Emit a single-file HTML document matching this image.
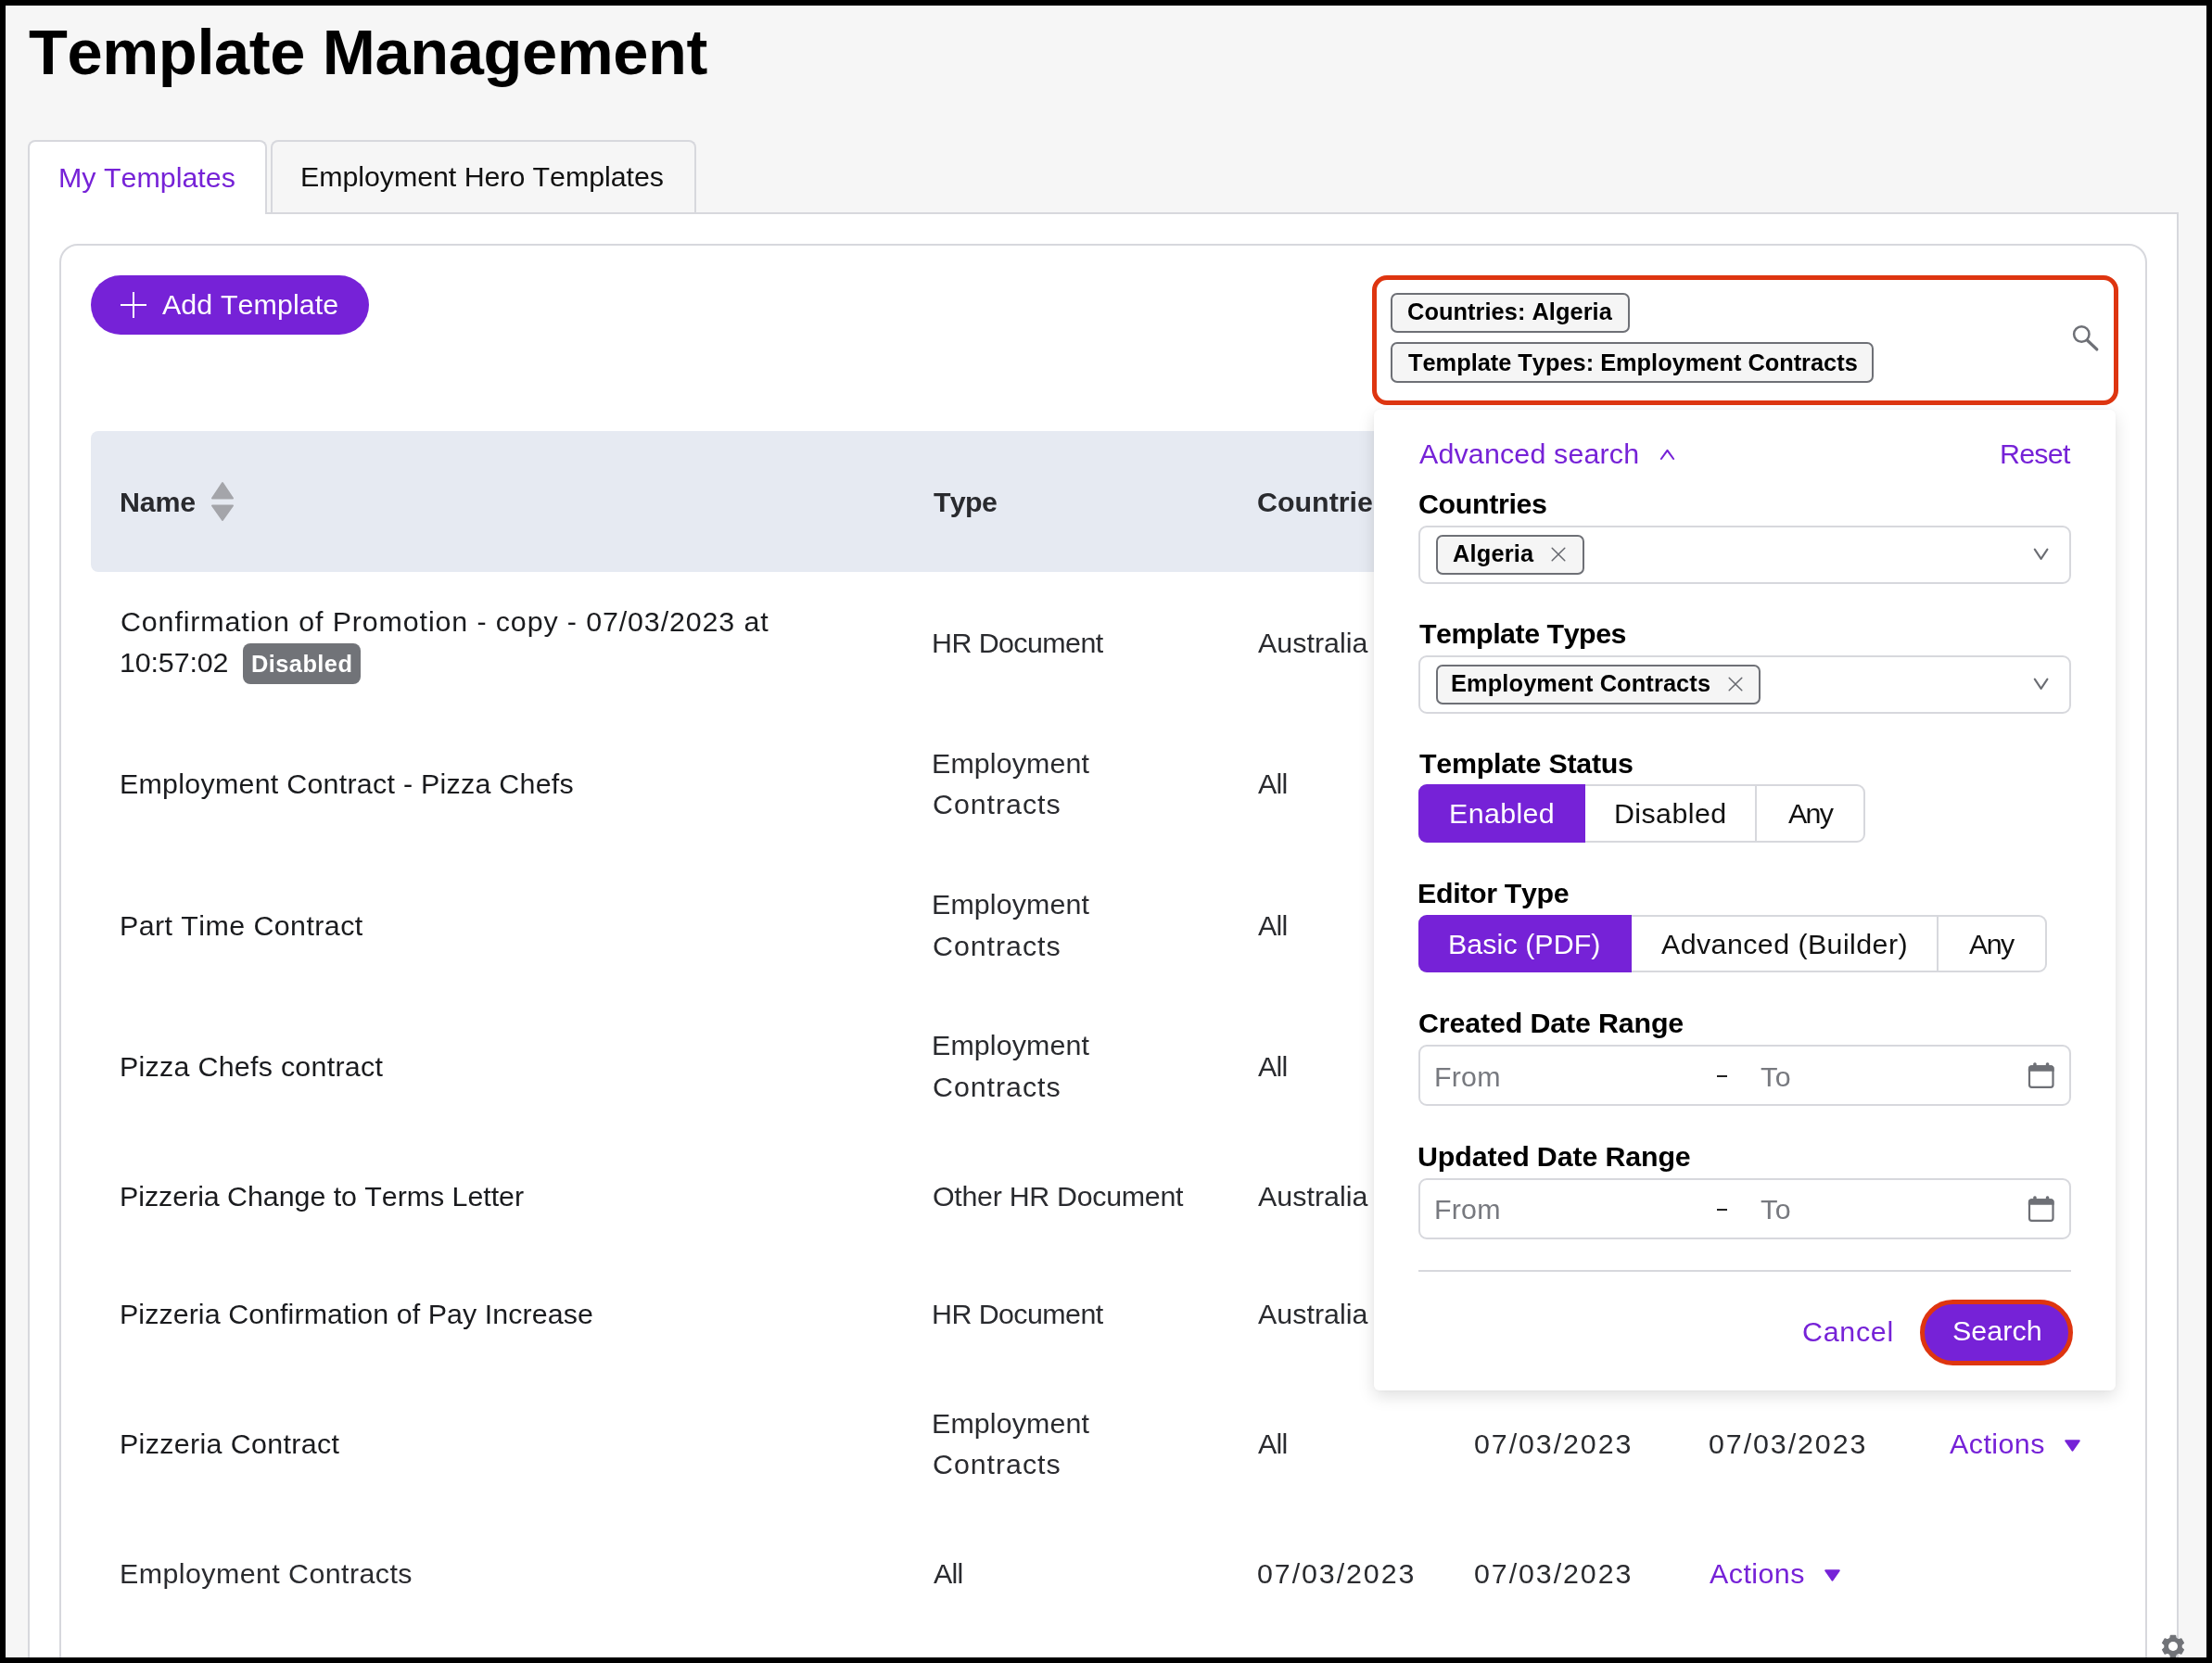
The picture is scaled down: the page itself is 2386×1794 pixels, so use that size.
<!DOCTYPE html>
<html><head><meta charset="utf-8"><style>
html,body{margin:0;padding:0;}
body{width:2386px;height:1794px;background:#000;overflow:hidden;position:relative;font-family:"Liberation Sans",sans-serif;}
#pg{position:absolute;left:6px;top:6px;width:2374px;height:1782px;background:#f6f6f6;overflow:hidden;}
.t{position:absolute;white-space:nowrap;font-kerning:none;-webkit-font-smoothing:antialiased;will-change:transform;}
.r{position:absolute;box-sizing:border-box;}
</style></head><body><div id="pg">
<div class="t" style="left:25.43px;top:16.93px;font-size:68.6px;line-height:68.6px;color:#000;font-weight:700;letter-spacing:-0.39px;">Template Management</div>
<div class="r" style="left:24.00px;top:223.00px;width:2320.00px;height:1671.00px;background:#fff;border:2px solid #d7d8dd;"></div>
<div class="r" style="left:24.00px;top:145.00px;width:258.00px;height:80.00px;background:#fff;border:2px solid #d7d8dd;border-bottom:none;border-radius:8px 8px 0 0;"></div>
<div class="r" style="left:286.00px;top:145.00px;width:459.00px;height:78.00px;background:#f6f6f6;border:2px solid #d7d8dd;border-bottom:none;border-radius:8px 8px 0 0;"></div>
<div class="t" style="left:56.51px;top:170.27px;font-size:30.4px;line-height:30.4px;color:#7622d7;">My Templates</div>
<div class="t" style="left:317.51px;top:169.27px;font-size:30.4px;line-height:30.4px;color:#111;letter-spacing:-0.065px;">Employment Hero Templates</div>
<div class="r" style="left:58.00px;top:257.00px;width:2252.00px;height:1637.00px;background:#fff;border:2px solid #d7d8dd;border-radius:20px;"></div>
<div class="r" style="left:92.00px;top:291.00px;width:300.00px;height:64.00px;background:#7622d7;border-radius:32px;"></div>
<div class="r" style="left:124.00px;top:322.00px;width:28.00px;height:2.00px;background:#fff;"></div>
<div class="r" style="left:137.00px;top:309.00px;width:2.00px;height:28.00px;background:#fff;"></div>
<div class="t" style="left:169.34px;top:307.27px;font-size:30.4px;line-height:30.4px;color:#fff;letter-spacing:0.096px;">Add Template</div>
<div class="r" style="left:92.00px;top:459.00px;width:2184.00px;height:152.00px;background:#e6eaf2;border-radius:8px;"></div>
<div class="t" style="left:123.37px;top:519.57px;font-size:30.4px;line-height:30.4px;color:#292a2e;font-weight:700;letter-spacing:-0.209px;">Name</div>
<svg class="r" style="left:221.00px;top:513.00px" width="26" height="44" viewBox="0 0 26 44"><path d="M13 2 L24 18.5 L2 18.5 Z" fill="#a4a5aa" stroke="#a4a5aa" stroke-width="2" stroke-linejoin="round"/><path d="M2 26.5 L24 26.5 L13 42 Z" fill="#a4a5aa" stroke="#a4a5aa" stroke-width="2" stroke-linejoin="round"/></svg>
<div class="t" style="left:1000.66px;top:519.87px;font-size:30.4px;line-height:30.4px;color:#292a2e;font-weight:700;letter-spacing:-0.691px;">Type</div>
<div class="t" style="left:1350.05px;top:519.87px;font-size:30.4px;line-height:30.4px;color:#292a2e;font-weight:700;">Countries</div>
<div class="t" style="left:123.66px;top:649.27px;font-size:30.4px;line-height:30.4px;color:#1a1b1e;letter-spacing:0.884px;">Confirmation of Promotion - copy - 07/03/2023 at</div>
<div class="t" style="left:122.88px;top:692.87px;font-size:30.4px;line-height:30.4px;color:#1a1b1e;letter-spacing:-0.127px;">10:57:02</div>
<div class="r" style="left:256.00px;top:688.00px;width:127.00px;height:43.50px;background:#717378;border-radius:8px;"></div>
<div class="t" style="left:264.90px;top:697.80px;font-size:25.4px;line-height:25.4px;color:#fff;font-weight:700;letter-spacing:0.444px;">Disabled</div>
<div class="t" style="left:998.71px;top:672.17px;font-size:30.4px;line-height:30.4px;color:#2a2b2f;letter-spacing:-0.569px;">HR Document</div>
<div class="t" style="left:1351.44px;top:672.17px;font-size:30.4px;line-height:30.4px;color:#2a2b2f;letter-spacing:0.036px;">Australia</div>
<div class="t" style="left:122.71px;top:824.47px;font-size:30.4px;line-height:30.4px;color:#1a1b1e;letter-spacing:0.262px;">Employment Contract - Pizza Chefs</div>
<div class="t" style="left:998.71px;top:802.17px;font-size:30.4px;line-height:30.4px;color:#2a2b2f;letter-spacing:0.118px;">Employment</div>
<div class="t" style="left:999.66px;top:846.47px;font-size:30.4px;line-height:30.4px;color:#2a2b2f;letter-spacing:0.956px;">Contracts</div>
<div class="t" style="left:1351.44px;top:824.47px;font-size:30.4px;line-height:30.4px;color:#2a2b2f;letter-spacing:-0.746px;">All</div>
<div class="t" style="left:122.71px;top:976.57px;font-size:30.4px;line-height:30.4px;color:#1a1b1e;letter-spacing:0.425px;">Part Time Contract</div>
<div class="t" style="left:998.71px;top:954.27px;font-size:30.4px;line-height:30.4px;color:#2a2b2f;letter-spacing:0.118px;">Employment</div>
<div class="t" style="left:999.66px;top:998.57px;font-size:30.4px;line-height:30.4px;color:#2a2b2f;letter-spacing:0.956px;">Contracts</div>
<div class="t" style="left:1351.44px;top:976.57px;font-size:30.4px;line-height:30.4px;color:#2a2b2f;letter-spacing:-0.746px;">All</div>
<div class="t" style="left:122.71px;top:1128.57px;font-size:30.4px;line-height:30.4px;color:#1a1b1e;letter-spacing:0.276px;">Pizza Chefs contract</div>
<div class="t" style="left:998.71px;top:1106.27px;font-size:30.4px;line-height:30.4px;color:#2a2b2f;letter-spacing:0.118px;">Employment</div>
<div class="t" style="left:999.66px;top:1150.57px;font-size:30.4px;line-height:30.4px;color:#2a2b2f;letter-spacing:0.956px;">Contracts</div>
<div class="t" style="left:1351.44px;top:1128.57px;font-size:30.4px;line-height:30.4px;color:#2a2b2f;letter-spacing:-0.746px;">All</div>
<div class="t" style="left:122.71px;top:1268.57px;font-size:30.4px;line-height:30.4px;color:#1a1b1e;letter-spacing:-0.047px;">Pizzeria Change to Terms Letter</div>
<div class="t" style="left:999.76px;top:1268.57px;font-size:30.4px;line-height:30.4px;color:#2a2b2f;letter-spacing:-0.301px;">Other HR Document</div>
<div class="t" style="left:1351.44px;top:1268.57px;font-size:30.4px;line-height:30.4px;color:#2a2b2f;letter-spacing:0.036px;">Australia</div>
<div class="t" style="left:122.71px;top:1396.47px;font-size:30.4px;line-height:30.4px;color:#1a1b1e;letter-spacing:0.069px;">Pizzeria Confirmation of Pay Increase</div>
<div class="t" style="left:998.71px;top:1396.47px;font-size:30.4px;line-height:30.4px;color:#2a2b2f;letter-spacing:-0.569px;">HR Document</div>
<div class="t" style="left:1351.44px;top:1396.47px;font-size:30.4px;line-height:30.4px;color:#2a2b2f;letter-spacing:0.036px;">Australia</div>
<div class="t" style="left:122.71px;top:1536.47px;font-size:30.4px;line-height:30.4px;color:#1a1b1e;letter-spacing:0.347px;">Pizzeria Contract</div>
<div class="t" style="left:998.71px;top:1514.17px;font-size:30.4px;line-height:30.4px;color:#2a2b2f;letter-spacing:0.118px;">Employment</div>
<div class="t" style="left:999.66px;top:1558.47px;font-size:30.4px;line-height:30.4px;color:#2a2b2f;letter-spacing:0.956px;">Contracts</div>
<div class="t" style="left:1351.44px;top:1536.47px;font-size:30.4px;line-height:30.4px;color:#2a2b2f;letter-spacing:-0.746px;">All</div>
<div class="t" style="left:1583.61px;top:1536.47px;font-size:30.4px;line-height:30.4px;color:#2a2b2f;letter-spacing:1.919px;">07/03/2023</div>
<div class="t" style="left:1836.61px;top:1536.47px;font-size:30.4px;line-height:30.4px;color:#2a2b2f;letter-spacing:1.919px;">07/03/2023</div>
<div class="t" style="left:2097.04px;top:1536.47px;font-size:30.4px;line-height:30.4px;color:#7622d7;letter-spacing:0.461px;">Actions</div>
<svg class="r" style="left:2221.20px;top:1546.60px" width="17" height="13" viewBox="0 0 17 13"><path d="M1.2 1.2 L15.8 1.2 L8.5 11.8 Z" fill="#7622d7" stroke="#7622d7" stroke-width="2" stroke-linejoin="round"/></svg>
<div class="t" style="left:122.71px;top:1676.47px;font-size:30.4px;line-height:30.4px;color:#2a2b2f;letter-spacing:0.427px;">Employment Contracts</div>
<div class="t" style="left:1001.14px;top:1676.47px;font-size:30.4px;line-height:30.4px;color:#2a2b2f;letter-spacing:-0.746px;">All</div>
<div class="t" style="left:1350.31px;top:1676.47px;font-size:30.4px;line-height:30.4px;color:#2a2b2f;letter-spacing:1.919px;">07/03/2023</div>
<div class="t" style="left:1583.61px;top:1676.47px;font-size:30.4px;line-height:30.4px;color:#2a2b2f;letter-spacing:1.919px;">07/03/2023</div>
<div class="t" style="left:1837.74px;top:1676.47px;font-size:30.4px;line-height:30.4px;color:#7622d7;letter-spacing:0.461px;">Actions</div>
<svg class="r" style="left:1961.90px;top:1686.60px" width="17" height="13" viewBox="0 0 17 13"><path d="M1.2 1.2 L15.8 1.2 L8.5 11.8 Z" fill="#7622d7" stroke="#7622d7" stroke-width="2" stroke-linejoin="round"/></svg>
<svg class="r" style="left:2323.00px;top:1755.30px" width="30" height="30" viewBox="0 0 30 30"><path fill="#717378" stroke="#717378" stroke-width="1.2" stroke-linejoin="round" d="M11.76,6.39 L12.38,3.29 L17.62,3.29 L18.24,6.39 L20.84,7.89 L23.83,6.88 L26.45,11.41 L24.08,13.50 L24.08,16.50 L26.45,18.59 L23.83,23.12 L20.84,22.11 L18.24,23.61 L17.62,26.71 L12.38,26.71 L11.76,23.61 L9.16,22.11 L6.17,23.12 L3.55,18.59 L5.92,16.50 L5.92,13.50 L3.55,11.41 L6.17,6.88 L9.16,7.89 Z"/><circle cx="15" cy="15" r="5" fill="#fff"/></svg>
<div class="r" style="left:1474.00px;top:291.00px;width:805.00px;height:140.00px;background:#fff;border:5px solid #de3510;border-radius:16px;box-sizing:border-box;"></div>
<div class="r" style="left:1494.00px;top:310.00px;width:258.00px;height:42.50px;background:#f5f5f5;border:2px solid #6e7076;border-radius:7px;box-sizing:border-box;"></div>
<div class="t" style="left:1511.96px;top:318.10px;font-size:25.4px;line-height:25.4px;color:#000;font-weight:700;letter-spacing:0.042px;">Countries: Algeria</div>
<div class="r" style="left:1494.00px;top:363.00px;width:521.00px;height:43.50px;background:#f5f5f5;border:2px solid #6e7076;border-radius:7px;box-sizing:border-box;"></div>
<div class="t" style="left:1512.71px;top:372.50px;font-size:25.4px;line-height:25.4px;color:#000;font-weight:700;letter-spacing:-0.017px;">Template Types: Employment Contracts</div>
<svg class="r" style="left:2228.00px;top:343.00px" width="32" height="32" viewBox="0 0 32 32"><circle cx="11.3" cy="11.5" r="8.2" fill="none" stroke="#6e7076" stroke-width="2.5"/><path d="M17.6 18.2 L27.8 27.9" stroke="#6e7076" stroke-width="3.3" stroke-linecap="round"/></svg>
<div class="r" style="left:1476.00px;top:436.00px;width:800.00px;height:1058.00px;background:#fff;border-radius:6px;box-shadow:0 6px 18px rgba(0,0,0,0.13), 0 0 4px rgba(0,0,0,0.04);"></div>
<div class="t" style="left:1525.44px;top:467.87px;font-size:30.4px;line-height:30.4px;color:#7622d7;letter-spacing:0.159px;">Advanced search</div>
<svg class="r" style="left:1783.00px;top:476.00px" width="20" height="16" viewBox="0 0 20 16"><path d="M2.9 13 L9.5 3.9 L16.1 13" fill="none" stroke="#7622d7" stroke-width="2.1" stroke-linecap="round" stroke-linejoin="round"/></svg>
<div class="t" style="left:2150.51px;top:467.87px;font-size:30.4px;line-height:30.4px;color:#7622d7;letter-spacing:-0.749px;">Reset</div>
<div class="t" style="left:1523.75px;top:522.47px;font-size:30.4px;line-height:30.4px;color:#000;font-weight:700;letter-spacing:-0.36px;">Countries</div>
<div class="r" style="left:1524.00px;top:560.50px;width:704.00px;height:63.50px;border:2px solid #d7d8dd;border-radius:9px;box-sizing:border-box;background:#fff;"></div>
<svg class="r" style="left:2186.00px;top:584.25px" width="19" height="14" viewBox="0 0 19 14"><path d="M2.8 2.6 L9.6 12.9 L16.4 2.6" fill="none" stroke="#6b6d73" stroke-width="2.1" stroke-linecap="round" stroke-linejoin="round"/></svg>
<div class="r" style="left:1542.50px;top:570.50px;width:160.00px;height:43.00px;background:#f5f5f5;border:2px solid #6e7076;border-radius:7px;box-sizing:border-box;"></div>
<div class="t" style="left:1560.97px;top:579.10px;font-size:25.4px;line-height:25.4px;color:#000;font-weight:700;letter-spacing:0.194px;">Algeria</div>
<svg class="r" style="left:1667.00px;top:584.00px" width="16" height="16" viewBox="0 0 16 16"><path d="M1.2 1.2 L14.8 14.8 M14.8 1.2 L1.2 14.8" stroke="#66686e" stroke-width="1.5" stroke-linecap="round"/></svg>
<div class="t" style="left:1524.66px;top:662.47px;font-size:30.4px;line-height:30.4px;color:#000;font-weight:700;letter-spacing:-0.475px;">Template Types</div>
<div class="r" style="left:1524.00px;top:701.00px;width:704.00px;height:62.50px;border:2px solid #d7d8dd;border-radius:9px;box-sizing:border-box;background:#fff;"></div>
<svg class="r" style="left:2186.00px;top:724.25px" width="19" height="14" viewBox="0 0 19 14"><path d="M2.8 2.6 L9.6 12.9 L16.4 2.6" fill="none" stroke="#6b6d73" stroke-width="2.1" stroke-linecap="round" stroke-linejoin="round"/></svg>
<div class="r" style="left:1542.50px;top:710.50px;width:350.50px;height:43.00px;background:#f5f5f5;border:2px solid #6e7076;border-radius:7px;box-sizing:border-box;"></div>
<div class="t" style="left:1559.30px;top:719.10px;font-size:25.4px;line-height:25.4px;color:#000;font-weight:700;letter-spacing:0.111px;">Employment Contracts</div>
<svg class="r" style="left:1857.50px;top:724.00px" width="16" height="16" viewBox="0 0 16 16"><path d="M1.2 1.2 L14.8 14.8 M14.8 1.2 L1.2 14.8" stroke="#66686e" stroke-width="1.5" stroke-linecap="round"/></svg>
<div class="t" style="left:1524.66px;top:802.47px;font-size:30.4px;line-height:30.4px;color:#000;font-weight:700;letter-spacing:-0.273px;">Template Status</div>
<div class="r" style="left:1524.00px;top:840.30px;width:482.00px;height:63.20px;border:2px solid #d7d8dd;border-radius:9px;box-sizing:border-box;background:#fff;"></div>
<div class="r" style="left:1524.00px;top:840.30px;width:180.00px;height:63.20px;background:#7622d7;border-radius:9px 0 0 9px;"></div>
<div class="r" style="left:1886.60px;top:840.30px;width:2.00px;height:63.20px;background:#d7d8dd;"></div>
<div class="t" style="left:1556.51px;top:855.87px;font-size:30.4px;line-height:30.4px;color:#fff;letter-spacing:0.365px;">Enabled</div>
<div class="t" style="left:1734.51px;top:855.87px;font-size:30.4px;line-height:30.4px;color:#111;letter-spacing:0.409px;">Disabled</div>
<div class="t" style="left:1922.94px;top:855.87px;font-size:30.4px;line-height:30.4px;color:#111;letter-spacing:-1.732px;">Any</div>
<div class="t" style="left:1522.97px;top:942.47px;font-size:30.4px;line-height:30.4px;color:#000;font-weight:700;letter-spacing:-0.354px;">Editor Type</div>
<div class="r" style="left:1524.00px;top:980.60px;width:677.50px;height:62.70px;border:2px solid #d7d8dd;border-radius:9px;box-sizing:border-box;background:#fff;"></div>
<div class="r" style="left:1524.00px;top:980.60px;width:230.00px;height:62.70px;background:#7622d7;border-radius:9px 0 0 9px;"></div>
<div class="r" style="left:2083.00px;top:980.60px;width:2.00px;height:62.70px;background:#d7d8dd;"></div>
<div class="t" style="left:1555.91px;top:996.57px;font-size:30.4px;line-height:30.4px;color:#fff;letter-spacing:0.065px;">Basic (PDF)</div>
<div class="t" style="left:1786.24px;top:996.57px;font-size:30.4px;line-height:30.4px;color:#111;letter-spacing:0.418px;">Advanced (Builder)</div>
<div class="t" style="left:2117.84px;top:996.57px;font-size:30.4px;line-height:30.4px;color:#111;letter-spacing:-1.582px;">Any</div>
<div class="t" style="left:1523.75px;top:1082.47px;font-size:30.4px;line-height:30.4px;color:#000;font-weight:700;letter-spacing:-0.153px;">Created Date Range</div>
<div class="r" style="left:1524.00px;top:1120.70px;width:704.00px;height:66.30px;border:2px solid #d7d8dd;border-radius:9px;box-sizing:border-box;background:#fff;"></div>
<div class="t" style="left:1540.51px;top:1139.67px;font-size:30.4px;line-height:30.4px;color:#77797f;letter-spacing:0.191px;">From</div>
<div class="r" style="left:1845.60px;top:1153.90px;width:11.90px;height:2.20px;background:#222;"></div>
<div class="t" style="left:1892.72px;top:1139.67px;font-size:30.4px;line-height:30.4px;color:#77797f;letter-spacing:-2.917px;">To</div>
<svg class="r" style="left:2180.00px;top:1138.85px" width="32" height="30" viewBox="0 0 32 30"><rect x="3.0" y="5.25" width="25.5" height="22.6" rx="2.6" fill="none" stroke="#6e7076" stroke-width="2.2"/><path d="M1.9 10.8 L1.9 7.8 Q1.9 4.15 5.5 4.15 L26 4.15 Q29.6 4.15 29.6 7.8 L29.6 10.8 Z" fill="#6e7076"/><rect x="7.2" y="1.2" width="3.5" height="4.5" rx="1.6" fill="#6e7076"/><rect x="20.8" y="1.2" width="3.5" height="4.5" rx="1.6" fill="#6e7076"/></svg>
<div class="t" style="left:1523.17px;top:1226.27px;font-size:30.4px;line-height:30.4px;color:#000;font-weight:700;letter-spacing:-0.143px;">Updated Date Range</div>
<div class="r" style="left:1524.00px;top:1265.20px;width:704.00px;height:65.80px;border:2px solid #d7d8dd;border-radius:9px;box-sizing:border-box;background:#fff;"></div>
<div class="t" style="left:1540.51px;top:1283.27px;font-size:30.4px;line-height:30.4px;color:#77797f;letter-spacing:0.191px;">From</div>
<div class="r" style="left:1845.60px;top:1297.50px;width:11.90px;height:2.20px;background:#222;"></div>
<div class="t" style="left:1892.72px;top:1283.27px;font-size:30.4px;line-height:30.4px;color:#77797f;letter-spacing:-2.917px;">To</div>
<svg class="r" style="left:2180.00px;top:1283.10px" width="32" height="30" viewBox="0 0 32 30"><rect x="3.0" y="5.25" width="25.5" height="22.6" rx="2.6" fill="none" stroke="#6e7076" stroke-width="2.2"/><path d="M1.9 10.8 L1.9 7.8 Q1.9 4.15 5.5 4.15 L26 4.15 Q29.6 4.15 29.6 7.8 L29.6 10.8 Z" fill="#6e7076"/><rect x="7.2" y="1.2" width="3.5" height="4.5" rx="1.6" fill="#6e7076"/><rect x="20.8" y="1.2" width="3.5" height="4.5" rx="1.6" fill="#6e7076"/></svg>
<div class="r" style="left:1524.00px;top:1363.70px;width:704.00px;height:2.00px;background:#d7d8dd;"></div>
<div class="t" style="left:1938.46px;top:1414.77px;font-size:30.4px;line-height:30.4px;color:#7622d7;letter-spacing:0.73px;">Cancel</div>
<div class="r" style="left:2065.20px;top:1396.00px;width:164.50px;height:70.70px;background:#7622d7;border:5px solid #de3510;border-radius:40px;box-sizing:border-box;"></div>
<div class="t" style="left:2099.62px;top:1414.37px;font-size:30.4px;line-height:30.4px;color:#fff;letter-spacing:0.087px;">Search</div>
</div></body></html>
